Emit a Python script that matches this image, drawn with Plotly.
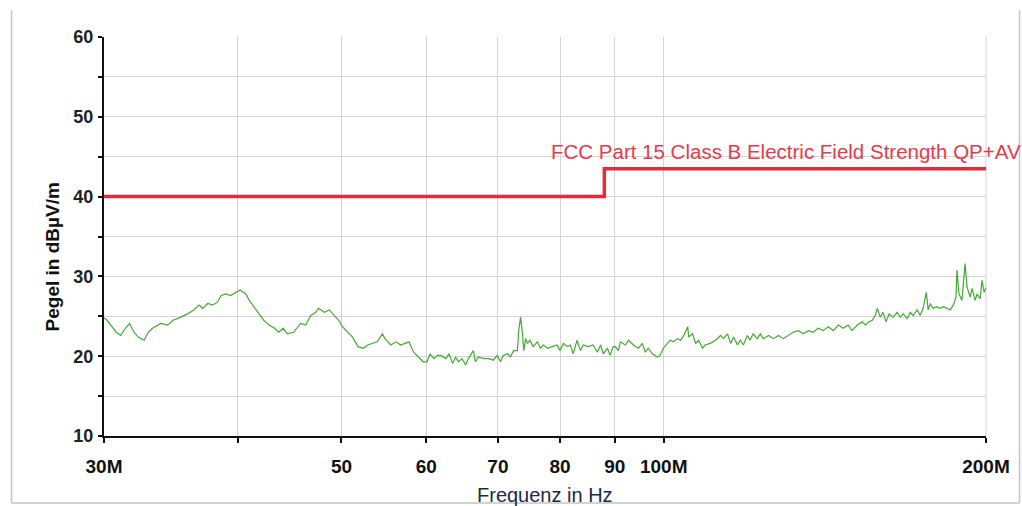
import plotly.graph_objects as go
import math

# ---- data ----
freq_mhz = [
    30.0, 30.2, 30.8, 31.1, 31.4, 31.7, 32.0, 32.3, 32.7, 33.0, 33.3, 33.7, 33.9, 34.4, 34.8,
    35.4, 35.9, 36.4, 36.8, 37.1, 37.5, 37.9, 38.3, 38.6, 39.0, 39.4, 39.8, 40.2, 40.7, 41.0,
    41.4, 41.9, 42.3, 42.8, 43.3, 43.7, 44.1, 44.5, 45.1, 45.8, 46.3, 46.8, 47.3, 47.6, 48.2,
    48.7, 49.2, 49.7, 50.1, 50.7, 51.2, 51.8, 52.4, 52.9, 53.5, 54.0, 54.6, 54.9, 55.6, 56.2,
    56.8, 57.4, 57.8, 58.4, 59.0, 59.6, 60.1, 60.5, 61.0, 61.5, 61.9, 62.6, 63.0, 63.5, 63.9,
    64.3, 64.8, 65.3, 65.7, 66.4, 66.7, 67.1, 67.9, 68.6, 69.3, 69.9, 70.4, 70.8, 71.5, 71.9,
    72.4, 73.0, 73.2, 73.5, 73.8, 74.0, 74.3, 74.6, 75.0, 75.5, 76.2, 76.7, 77.2, 77.9, 78.7,
    79.5, 80.0, 80.6, 81.3, 81.8, 82.3, 83.0, 83.6, 84.1, 85.0, 85.9, 86.7, 87.3, 87.8, 88.6,
    89.1, 89.7, 90.1, 90.7, 91.1, 92.1, 92.7, 93.7, 94.7, 95.5, 96.1, 96.7, 97.6, 98.6, 99.2,
    99.9, 100.8, 101.4, 102.1, 103.0, 103.7, 104.4, 105.3, 105.5, 106.4, 107.1, 107.8, 108.7, 109.3, 110.5,
    111.8, 113.0, 113.7, 114.7, 115.5, 116.2, 117.2, 117.9, 118.7, 119.7, 120.4, 121.2, 122.3, 123.1, 123.9,
    125.3, 126.6, 128.0, 129.3, 130.7, 132.1, 133.6, 135.0, 136.5, 137.9, 139.4, 140.9, 142.5, 144.0, 145.6,
    147.1, 148.7, 149.9, 151.6, 153.3, 154.3, 155.3, 156.6, 157.6, 158.3, 159.3, 160.3, 161.3, 162.4, 163.8,
    165.2, 166.3, 167.4, 168.8, 169.9, 171.0, 172.5, 173.6, 174.7, 175.9, 176.6, 177.4, 178.5, 180.0, 181.2,
    182.4, 184.0, 185.2, 186.4, 187.5, 187.9, 188.7, 189.9, 190.8, 191.2, 192.0, 193.3, 194.1, 195.4, 196.2,
    197.5, 198.3, 199.2, 200.0,
]
level_db = [
    24.8, 24.5, 23.0, 22.6, 23.5, 24.1, 23.0, 22.4, 22.0, 23.0, 23.5, 23.9, 24.1, 23.9, 24.5,
    24.9, 25.3, 25.8, 26.4, 26.0, 26.6, 26.4, 26.8, 27.6, 27.8, 27.6, 28.0, 28.3, 27.8, 27.0,
    26.2, 25.3, 24.5, 23.9, 23.5, 23.0, 23.5, 22.8, 23.0, 24.1, 23.9, 25.1, 25.5, 26.0, 25.5,
    25.8, 25.1, 24.5, 23.7, 23.0, 22.4, 21.2, 21.0, 21.4, 21.6, 21.8, 22.8, 22.2, 21.4, 21.8,
    21.4, 21.6, 21.8, 20.5, 19.9, 19.3, 19.3, 20.3, 19.7, 20.1, 20.1, 19.7, 20.3, 19.1, 19.9,
    19.3, 19.7, 18.9, 19.7, 20.7, 19.3, 19.9, 19.7, 19.7, 19.5, 20.1, 19.3, 20.1, 20.3, 19.9,
    20.7, 20.7, 23.2, 24.9, 22.8, 20.7, 22.2, 21.6, 22.0, 21.2, 21.8, 21.0, 21.4, 21.0, 21.2,
    21.4, 20.7, 21.6, 21.2, 21.4, 20.3, 22.0, 20.7, 21.4, 21.2, 21.4, 20.5, 21.4, 20.3, 21.0,
    20.1, 21.2, 21.2, 20.7, 21.8, 21.4, 22.0, 21.4, 21.0, 21.6, 20.5, 21.0, 20.3, 19.9, 20.1,
    21.0, 21.6, 22.0, 21.8, 22.2, 22.0, 22.6, 23.7, 22.4, 22.8, 21.6, 22.0, 21.0, 21.4, 21.6,
    22.0, 22.6, 22.2, 22.8, 21.6, 22.4, 21.4, 22.0, 21.4, 22.6, 22.0, 22.8, 22.2, 22.8, 22.2,
    22.6, 22.2, 22.6, 22.2, 22.6, 23.0, 23.2, 22.8, 23.2, 23.0, 23.5, 23.2, 23.7, 23.2, 23.9,
    23.5, 23.9, 23.2, 23.9, 24.3, 23.9, 24.3, 24.5, 25.1, 26.0, 24.9, 25.5, 24.3, 25.3, 24.9,
    25.5, 24.9, 25.3, 24.7, 25.5, 25.1, 25.8, 25.1, 26.0, 28.0, 25.8, 26.6, 26.0, 26.2, 26.0,
    26.2, 26.0, 25.8, 26.4, 27.4, 30.8, 27.8, 27.0, 29.9, 31.6, 28.7, 27.4, 28.5, 27.0, 27.8,
    27.2, 29.5, 28.0, 28.6,
]
limit_freq_mhz = [30, 88, 88, 200]
limit_db = [40, 40, 43.5, 43.5]
limit_label = "FCC Part 15 Class B Electric Field Strength QP+AV"

x_tick_mhz = [30, 40, 50, 60, 70, 80, 90, 100, 200]
x_tick_text = ["30M", "", "50", "60", "70", "80", "90", "100M", "200M"]
y_tick_vals = [10, 15, 20, 25, 30, 35, 40, 45, 50, 55, 60]
y_tick_text = ["10", "", "20", "", "30", "", "40", "", "50", "", "60"]

FONT = "Liberation Sans, Arial, sans-serif"

fig = go.Figure()
fig.add_trace(go.Scatter(
    x=[f * 1e6 for f in freq_mhz], y=level_db, mode="lines",
    line=dict(color="#44aa33", width=1.2), showlegend=False, hoverinfo="skip"))
fig.add_trace(go.Scatter(
    x=[f * 1e6 for f in limit_freq_mhz], y=limit_db, mode="lines",
    line=dict(color="#e8283c", width=3.5), showlegend=False, hoverinfo="skip"))

fig.update_layout(
    width=1022, height=506,
    margin=dict(l=104, r=36, t=37, b=70),
    paper_bgcolor="white", plot_bgcolor="white",
    font=dict(family=FONT, color="#111"),
    xaxis=dict(
        type="log",
        range=[math.log10(30e6), math.log10(200e6)],
        tickvals=[v * 1e6 for v in x_tick_mhz], ticktext=x_tick_text,
        tickfont=dict(family=FONT, size=19, color="#111", weight="bold"),
        ticks="outside", ticklen=5, tickwidth=1.5, tickcolor="#111",
        showline=True, linecolor="#111", linewidth=2,
        showgrid=True, gridcolor="#d4d4d4", gridwidth=1,
        zeroline=False, ticklabelstandoff=7,
    ),
    yaxis=dict(
        range=[10, 60],
        tickvals=y_tick_vals, ticktext=y_tick_text,
        tickfont=dict(family=FONT, size=18, color="#222", weight="bold"),
        ticks="outside", ticklen=4, tickwidth=1.5, tickcolor="#111",
        showline=True, linecolor="#111", linewidth=2,
        showgrid=True, gridcolor="#d4d4d4", gridwidth=1,
        zeroline=False, ticklabelstandoff=1,
    ),
    annotations=[
        dict(text=limit_label, xref="paper", yref="paper", x=0.5045, y=0.712,
             xanchor="left", yanchor="middle", showarrow=False,
             font=dict(family=FONT, size=20.5, color="#e83a4c")),
        dict(text="Pegel in dBµV/m", xref="paper", yref="paper", x=-0.059, y=0.45,
             xanchor="center", yanchor="middle", textangle=-90, showarrow=False,
             font=dict(family=FONT, size=19, color="#111", weight="bold")),
        dict(text="Frequenz in Hz", xref="paper", yref="paper", x=0.5, y=-0.148,
             xanchor="center", yanchor="middle", showarrow=False,
             font=dict(family=FONT, size=20, color="#1c2a48")),
    ],
    shapes=[
        dict(type="line", xref="paper", yref="paper", x0=-0.1048, x1=-0.1048, y0=-0.168, y1=1.067,
             line=dict(color="#c4c4c4", width=1.5)),
        dict(type="line", xref="paper", yref="paper", x0=-0.1048, x1=1.038, y0=-0.168, y1=-0.168,
             line=dict(color="#c4c4c4", width=1.5)),
        dict(type="line", xref="paper", yref="paper", x0=1.038, x1=1.038, y0=-0.168, y1=1.067,
             line=dict(color="#c4c4c4", width=1.5)),
        dict(type="line", xref="paper", yref="paper", x0=1, x1=1, y0=0, y1=1,
             line=dict(color="#d4d4d4", width=1), layer="below"),
    ],
)

fig.write_html("out.html")
